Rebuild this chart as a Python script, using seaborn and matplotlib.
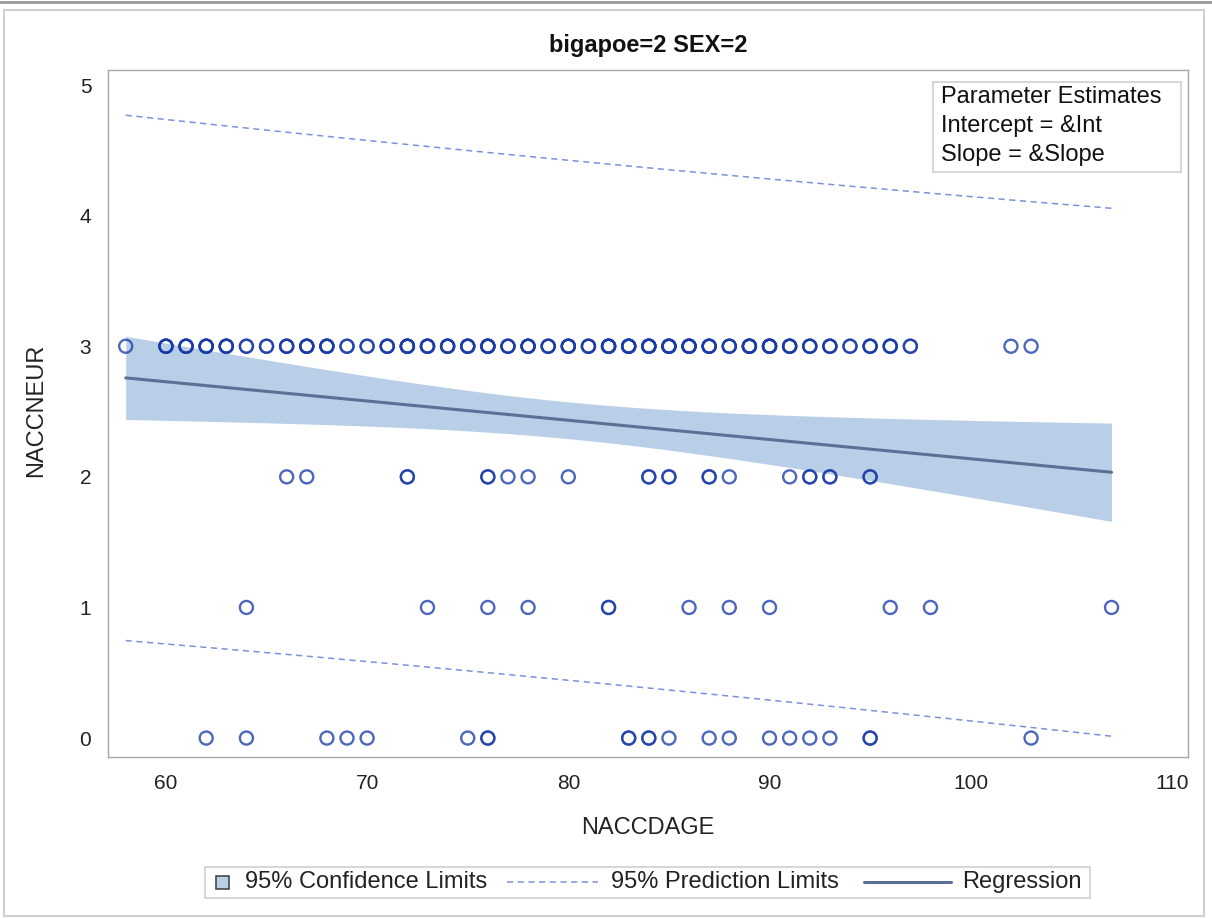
import numpy as np
import pandas as pd
import matplotlib
matplotlib.use("Agg")
import matplotlib.pyplot as plt
from matplotlib.patches import Rectangle
from matplotlib.lines import Line2D
import seaborn as sns

# NACCDAGE values for each NACCNEUR level (repeated ages are separate subjects)
age_neur3 = ([58] + [60] * 4 + [61] * 4 + [62] * 4 + [63] * 4 + [64] * 2 + [65] * 2
             + [66] * 3 + [67] * 4 + [68] * 4 + [69] * 2 + [70] * 2 + [71] * 3
             + [72] * 5 + [73] * 4 + [74] * 4 + [75] * 4 + [76] * 5 + [77] * 3
             + [78] * 4 + [79] * 3 + [80] * 4 + [81] * 3 + [82] * 5 + [83] * 5
             + [84] * 5 + [85] * 5 + [86] * 5 + [87] * 4 + [88] * 3 + [89] * 5
             + [90] * 5 + [91] * 4 + [92] * 3 + [93] * 3 + [94] * 2 + [95] * 3
             + [96] * 3 + [97] * 2 + [102] + [103])
age_neur2 = [66, 67, 72, 72, 76, 76, 77, 78, 80, 84, 84, 85, 85, 87, 87, 88, 91, 92,
             92, 93, 93, 95, 95]
age_neur1 = [64, 73, 76, 78, 82, 82, 86, 88, 90, 96, 98, 107]
age_neur0 = [62, 64, 68, 69, 70, 75, 76, 76, 83, 83, 84, 84, 85, 87, 88, 90, 91, 92,
             93, 95, 95, 103]

title = "bigapoe=2 SEX=2"
x_label = "NACCDAGE"
y_label = "NACCNEUR"
x_ticks = [60, 70, 80, 90, 100, 110]
y_ticks = [0, 1, 2, 3, 4, 5]
inset_lines = ["Parameter Estimates", "Intercept = &Int", "Slope = &Slope"]
legend_labels = ["95% Confidence Limits", "95% Prediction Limits", "Regression"]

df = pd.DataFrame({
    "NACCDAGE": age_neur3 + age_neur2 + age_neur1 + age_neur0,
    "NACCNEUR": [3] * len(age_neur3) + [2] * len(age_neur2)
                + [1] * len(age_neur1) + [0] * len(age_neur0),
})

# Ordinary least squares fit with 95% confidence and prediction limits
x = df["NACCDAGE"].to_numpy(float)
y = df["NACCNEUR"].to_numpy(float)
n = len(x)
xbar = x.mean()
sxx = ((x - xbar) ** 2).sum()
slope = ((x - xbar) * (y - y.mean())).sum() / sxx
intercept = y.mean() - slope * xbar
resid = y - (intercept + slope * x)
s = np.sqrt((resid ** 2).sum() / (n - 2))
t95 = 1.972
xg = np.linspace(x.min(), x.max(), 200)
fit = intercept + slope * xg
se_mean = s * np.sqrt(1.0 / n + (xg - xbar) ** 2 / sxx)
se_pred = s * np.sqrt(1.0 + 1.0 / n + (xg - xbar) ** 2 / sxx)

BAND = "#b9cfe7"
FITC = "#5b6f97"
PRED = "#7d90dd"
MARK = "#1a3ca8"
FRAME = "#a8a8a8"
BOXEDGE = "#cfcfcf"
TXT = "#222222"

sns.set_style("white")
plt.rcParams["font.family"] = ["Liberation Sans", "DejaVu Sans"]

W, H = 1212, 918
fig = plt.figure(figsize=(W / 100, H / 100), dpi=100)
ax = fig.add_axes([108 / W, 1 - 757 / H, 1080 / W, 687 / H])


def fx(px):
    return px / W


def fy(py):
    return 1 - py / H


ax.fill_between(xg, fit - t95 * se_mean, fit + t95 * se_mean, color=BAND, lw=0, zorder=1)
ax.plot(xg, fit + t95 * se_pred, color=PRED, lw=1.1, ls=(0, (4, 3)), zorder=2)
ax.plot(xg, fit - t95 * se_pred, color=PRED, lw=1.1, ls=(0, (4, 3)), zorder=2)
ax.plot(xg, fit, color=FITC, lw=2.2, zorder=3)

sns.scatterplot(data=df, x="NACCDAGE", y="NACCNEUR", ax=ax, marker="o", s=88,
                facecolors="none", edgecolor=MARK, linewidth=1.7, alpha=0.78, zorder=4)

ax.set_xlim(57.12, 110.8)
ax.set_ylim(-0.145, 5.115)
ax.set_xticks(x_ticks)
ax.set_yticks(y_ticks)
ax.tick_params(axis="both", which="both", direction="out", length=8, width=1,
               color=FRAME, labelsize=15, labelcolor=TXT, pad=4)
for sp in ax.spines.values():
    sp.set_color(FRAME)
    sp.set_linewidth(1)
ax.set_xlabel(x_label, fontsize=17, color=TXT)
ax.set_ylabel(y_label, fontsize=17, color=TXT)
ax.xaxis.set_label_coords(0.5, -(817 - 757) / 687)
ax.yaxis.set_label_coords((47 - 108) / 1080, 0.505)
ax.set_title(title, fontsize=17, fontweight="bold", color="#111111", pad=13)

# Parameter estimates inset
fig.add_artist(Rectangle((fx(933), fy(172)), (1181 - 933) / W, 90 / H,
                         transform=fig.transFigure, facecolor="white",
                         edgecolor=BOXEDGE, lw=1.2, zorder=5))
for i, line in enumerate(inset_lines):
    fig.text(fx(941), fy(97 + 29 * i), line, ha="left", va="center",
             fontsize=17, color="#111111", zorder=6)

# Legend panel below the axes
ly = fy(882)
fig.add_artist(Rectangle((fx(205), fy(898)), (1090 - 205) / W, 31 / H,
                         transform=fig.transFigure, facecolor="white",
                         edgecolor=BOXEDGE, lw=1.2))
fig.add_artist(Rectangle((fx(216), fy(889)), 13 / W, 13 / H, transform=fig.transFigure,
                         facecolor=BAND, edgecolor="#3c3c3c", lw=1.1))
fig.text(fx(245), ly, legend_labels[0], ha="left", va="center", fontsize=17, color=TXT)
fig.add_artist(Line2D([fx(507), fx(598)], [ly, ly], transform=fig.transFigure,
                      color=PRED, lw=1.1, ls=(0, (4, 3))))
fig.text(fx(611), ly, legend_labels[1], ha="left", va="center", fontsize=17, color=TXT)
fig.add_artist(Line2D([fx(864), fx(951)], [ly, ly], transform=fig.transFigure,
                      color=FITC, lw=2.2))
fig.text(fx(962), ly, legend_labels[2], ha="left", va="center", fontsize=17, color=TXT)

# Outer panel borders
fig.add_artist(Line2D([0, 1], [1 - 1.5 / H, 1 - 1.5 / H], transform=fig.transFigure,
                      color="#9a9a9a", lw=2))
fig.add_artist(Rectangle((4 / W, 2 / H), 1200 / W, 906 / H, transform=fig.transFigure,
                         fill=False, edgecolor="#d0d0d0", lw=1.5))

fig.savefig("out.png", dpi=100)
